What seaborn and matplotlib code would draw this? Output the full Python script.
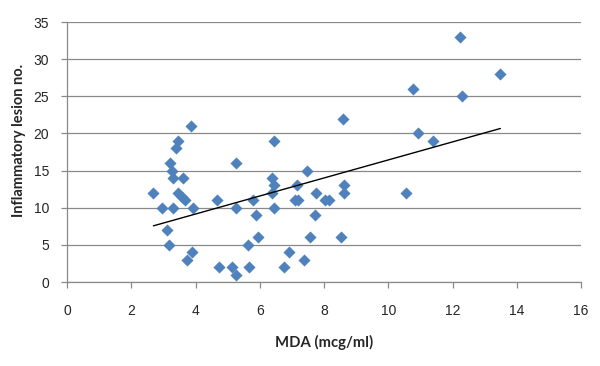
import numpy as np
import pandas as pd
import matplotlib
matplotlib.use("Agg")
import matplotlib.pyplot as plt
import seaborn as sns

mda = [2.69, 2.95, 3.29, 3.12, 3.16, 3.21, 3.28, 3.31, 3.62, 3.40, 3.44, 3.86, 3.47, 3.57, 3.68, 3.91, 3.88, 3.73,
       4.66, 4.73, 5.26, 5.26, 5.15, 5.26, 5.63, 5.67, 5.80, 5.88, 5.94,
       6.45, 6.38, 6.45, 6.38, 6.45, 6.74, 6.90, 7.39, 7.10, 7.20, 7.17, 7.47, 7.57, 7.73, 7.76, 8.04, 8.17, 8.53, 8.59, 8.63, 8.63,
       10.55, 10.76, 10.92, 11.38, 12.22, 12.29, 13.49]
lesions = [12, 10, 10, 7, 5, 16, 15, 14, 14, 18, 19, 21, 12, 11.5, 11, 10, 4, 3,
           11, 2, 16, 10, 2, 1, 5, 2, 11, 9, 6,
           19, 14, 13, 12, 10, 2, 4, 3, 11, 11, 13, 15, 6, 9, 12, 11, 11, 6, 22, 13, 12,
           12, 26, 20, 19, 33, 25, 28]
x_ticks = [0, 2, 4, 6, 8, 10, 12, 14, 16]
y_ticks = [0, 5, 10, 15, 20, 25, 30, 35]

df = pd.DataFrame({"MDA": mda, "Lesions": lesions})

sns.set_style("white")
plt.rcParams['font.family'] = ['Liberation Sans', 'DejaVu Sans']

fig = plt.figure(figsize=(6, 3.66), dpi=100)
ax = fig.add_axes([67/600, 1-282/366, (581-67)/600, (282-22)/366])

sns.regplot(data=df, x="MDA", y="Lesions", ax=ax, ci=None, marker="D",
            scatter_kws=dict(s=38, color="#4F81BD", linewidths=0, alpha=1, zorder=3),
            line_kws=dict(color="black", linewidth=1.0, zorder=4))

ax.set_xlim(0, 16)
ax.set_ylim(0, 35)
ax.set_xticks(x_ticks)
ax.set_yticks(y_ticks)
ax.set_xticklabels([str(t) for t in x_ticks])
ax.set_yticklabels([str(t) for t in y_ticks])
ax.yaxis.grid(True, color="#898989", linewidth=0.9)
ax.xaxis.grid(False)
ax.set_axisbelow(True)
for s in ["top", "right"]:
    ax.spines[s].set_visible(False)
for s in ["left", "bottom"]:
    ax.spines[s].set_color("#898989")
    ax.spines[s].set_linewidth(0.9)
ax.tick_params(axis="y", length=4, width=0.9, color="#898989", pad=9, labelsize=10, left=True)
ax.tick_params(axis="x", length=4, width=0.9, color="#898989", pad=12, labelsize=10, bottom=True)

ax.set_xlabel("MDA (mcg/ml)", fontsize=10.7, fontweight="bold", family=["Lato", "DejaVu Sans"])
ax.set_ylabel("Inflammatory lesion no.", fontsize=10.5, fontweight="bold", family=["Lato", "DejaVu Sans"])
ax.xaxis.set_label_coords(0.5, -0.205)
ax.yaxis.set_label_coords(-0.08, 0.546)

fig.savefig("out.png", dpi=100, facecolor="white")
